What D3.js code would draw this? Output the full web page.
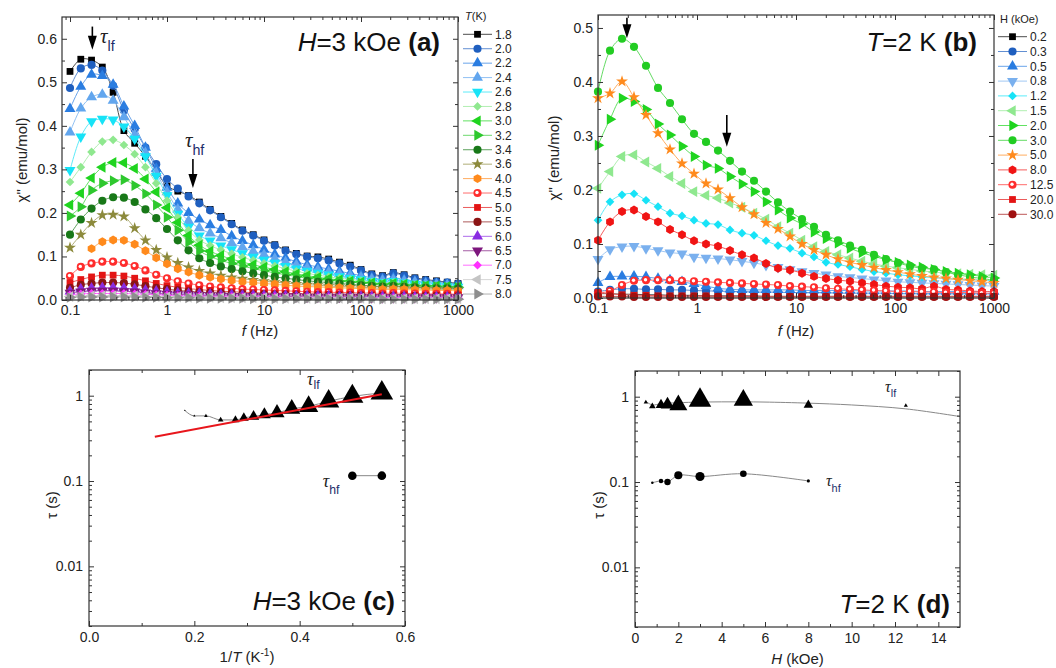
<!DOCTYPE html>
<html>
<head>
<meta charset="utf-8">
<script src="https://cdn.jsdelivr.net/npm/d3@7"></script>
<style>
  body { margin: 0; background: #fff; }
  svg { font-family: "Liberation Sans", Arial, sans-serif; }
</style>
</head>
<body>
<div id="chart"></div>
<script>
// ---- panel (a): chi'' vs f at H = 3 kOe, one series per temperature
const fA = [0.1,0.1292,0.1668,0.2154,0.2783,0.3594,0.4642,0.5995,0.7743,1,1.292,1.668,2.154,2.783,3.594,4.642,5.995,7.743,10,12.92,16.68,21.54,27.83,35.94,46.42,59.95,77.43,100,129.2,166.8,215.4,278.3,359.4,464.2,599.5,774.3,1000];
const tempsA = ["1.8","2.0","2.2","2.4","2.6","2.8","3.0","3.2","3.4","3.6","4.0","4.5","5.0","5.5","6.0","6.5","7.0","7.5","8.0"];
const a18 = [0.525,0.553,0.551,0.535,0.477,0.389,0.360,0.330,0.296,0.262,0.250,0.240,0.225,0.208,0.192,0.176,0.161,0.150,0.138,0.127,0.115,0.107,0.101,0.099,0.094,0.087,0.080,0.070,0.060,0.056,0.063,0.058,0.051,0.047,0.044,0.041,0.038];
const a20 = [0.487,0.532,0.540,0.527,0.492,0.435,0.392,0.350,0.312,0.278,0.256,0.238,0.222,0.206,0.190,0.174,0.159,0.148,0.136,0.125,0.113,0.105,0.099,0.096,0.091,0.084,0.077,0.068,0.058,0.054,0.061,0.056,0.049,0.045,0.042,0.040,0.037];
const a22 = [0.439,0.490,0.518,0.515,0.495,0.445,0.400,0.350,0.302,0.258,0.222,0.200,0.185,0.172,0.161,0.147,0.136,0.126,0.116,0.105,0.096,0.088,0.081,0.076,0.071,0.066,0.061,0.056,0.051,0.048,0.051,0.047,0.043,0.040,0.038,0.036,0.034];
const a24 = [0.385,0.440,0.466,0.472,0.458,0.420,0.380,0.338,0.292,0.248,0.208,0.182,0.165,0.153,0.142,0.131,0.121,0.112,0.104,0.095,0.087,0.080,0.074,0.069,0.064,0.060,0.056,0.052,0.048,0.045,0.047,0.044,0.041,0.038,0.036,0.034,0.032];
const a26 = [0.298,0.375,0.410,0.416,0.414,0.398,0.370,0.330,0.285,0.240,0.198,0.168,0.148,0.136,0.125,0.116,0.107,0.099,0.092,0.085,0.078,0.072,0.067,0.062,0.058,0.054,0.050,0.047,0.044,0.041,0.043,0.040,0.037,0.035,0.033,0.031,0.030];
const a28 = [0.271,0.305,0.340,0.364,0.368,0.356,0.335,0.305,0.268,0.228,0.190,0.160,0.138,0.125,0.115,0.106,0.098,0.091,0.084,0.078,0.072,0.066,0.061,0.057,0.053,0.050,0.047,0.044,0.041,0.038,0.040,0.037,0.035,0.033,0.032,0.031,0.030];
const a30 = [0.218,0.245,0.280,0.305,0.316,0.315,0.302,0.278,0.248,0.212,0.178,0.148,0.126,0.112,0.102,0.094,0.087,0.081,0.075,0.070,0.065,0.060,0.056,0.052,0.049,0.046,0.043,0.041,0.039,0.037,0.038,0.036,0.034,0.033,0.032,0.031,0.030];
const a32 = [0.193,0.214,0.252,0.268,0.274,0.276,0.263,0.244,0.218,0.190,0.160,0.133,0.113,0.100,0.091,0.084,0.078,0.072,0.067,0.062,0.058,0.054,0.050,0.047,0.045,0.043,0.041,0.039,0.037,0.035,0.036,0.034,0.033,0.032,0.031,0.030,0.029];
const a34 = [0.150,0.185,0.210,0.228,0.236,0.235,0.225,0.208,0.188,0.163,0.137,0.114,0.096,0.085,0.077,0.071,0.066,0.061,0.057,0.053,0.050,0.047,0.044,0.042,0.040,0.038,0.036,0.034,0.032,0.031,0.032,0.030,0.029,0.028,0.027,0.027,0.026];
const a36 = [0.120,0.150,0.177,0.195,0.196,0.192,0.165,0.137,0.115,0.098,0.085,0.075,0.067,0.061,0.056,0.052,0.049,0.046,0.043,0.041,0.039,0.037,0.035,0.034,0.032,0.031,0.030,0.029,0.028,0.027,0.028,0.027,0.026,0.025,0.025,0.024,0.024];
const a40 = [null,null,0.118,0.134,0.138,0.137,0.128,0.113,0.097,0.083,0.072,0.064,0.057,0.052,0.048,0.045,0.042,0.040,0.038,0.036,0.034,0.032,0.031,0.030,0.029,0.028,0.027,0.026,0.025,0.024,0.025,0.024,0.023,0.023,0.022,0.022,0.021];
const a45 = [0.055,0.076,0.084,0.088,0.088,0.085,0.078,0.068,0.058,0.050,0.043,0.038,0.034,0.031,0.029,0.027,0.025,0.024,0.023,0.022,0.021,0.020,0.019,0.018,0.018,0.017,0.017,0.016,0.016,0.015,0.016,0.015,0.015,0.014,0.014,0.014,0.013];
const a50 = [0.040,0.047,0.053,0.057,0.057,0.055,0.050,0.044,0.038,0.033,0.029,0.026,0.024,0.022,0.020,0.019,0.018,0.017,0.016,0.016,0.015,0.015,0.014,0.014,0.013,0.013,0.013,0.012,0.012,0.012,0.012,0.012,0.011,0.011,0.011,0.011,0.011];
const a55 = [0.028,0.035,0.038,0.040,0.040,0.039,0.036,0.032,0.028,0.025,0.022,0.020,0.018,0.017,0.016,0.015,0.014,0.013,0.013,0.012,0.012,0.011,0.011,0.011,0.010,0.010,0.010,0.010,0.009,0.009,0.009,0.009,0.009,0.009,0.009,0.008,0.008];
const a60 = [0.020,0.025,0.027,0.028,0.028,0.027,0.025,0.022,0.020,0.018,0.016,0.015,0.014,0.013,0.012,0.012,0.011,0.011,0.010,0.010,0.010,0.009,0.009,0.009,0.009,0.008,0.008,0.008,0.008,0.008,0.008,0.008,0.007,0.007,0.007,0.007,0.007];
const a65 = [0.016,0.019,0.021,0.021,0.021,0.020,0.019,0.017,0.015,0.014,0.013,0.012,0.011,0.010,0.010,0.009,0.009,0.009,0.008,0.008,0.008,0.008,0.007,0.007,0.007,0.007,0.007,0.007,0.006,0.006,0.006,0.006,0.006,0.006,0.006,0.006,0.006];
const a70 = [0.012,0.014,0.015,0.015,0.015,0.015,0.014,0.013,0.012,0.011,0.010,0.009,0.009,0.008,0.008,0.008,0.007,0.007,0.007,0.007,0.006,0.006,0.006,0.006,0.006,0.006,0.005,0.005,0.005,0.005,0.005,0.005,0.005,0.005,0.005,0.005,0.005];
const a75 = [0.008,0.009,0.010,0.010,0.010,0.010,0.009,0.009,0.008,0.007,0.007,0.006,0.006,0.006,0.005,0.005,0.005,0.005,0.005,0.004,0.004,0.004,0.004,0.004,0.004,0.004,0.004,0.004,0.004,0.003,0.003,0.003,0.003,0.003,0.003,0.003,0.003];
const a80 = [0.006,0.007,0.007,0.007,0.007,0.007,0.007,0.006,0.006,0.005,0.005,0.005,0.004,0.004,0.004,0.004,0.004,0.003,0.003,0.003,0.003,0.003,0.003,0.003,0.003,0.003,0.003,0.003,0.003,0.002,0.002,0.002,0.002,0.002,0.002,0.002,0.002];
const seriesA = [a18,a20,a22,a24,a26,a28,a30,a32,a34,a36,a40,a45,a50,a55,a60,a65,a70,a75,a80];
const colorsA = ["#000000","#1f5fbf","#2a7de1","#62a6ee","#17e3f7","#8fe88f","#1fd41f","#2ec82e","#187818","#8c8a3c","#ff8a1c","#ff2d2d","#e31414","#8b1414","#8a2be2","#7d167d","#ff30ff","#c4c4c4","#8e8e8e"];
const shapesA = ["square","circle","up","up","down","diamond","left","right","circle","star","hex","dot","square","circle","up","down","diamond","left","right"];

// ---- panel (b): chi'' vs f at T = 2 K, one series per field
const fB = [0.1,0.1322,0.1748,0.2310,0.3054,0.4037,0.5337,0.7055,0.9326,1.233,1.630,2.154,2.848,3.765,4.977,6.579,8.697,11.50,15.20,20.09,26.56,35.11,46.42,61.36,81.11,107.2,141.8,187.4,247.7,327.5,432.9,572.2,756.5,1000];
const fieldsB = ["0.2","0.3","0.5","0.8","1.2","1.5","2.0","3.0","5.0","8.0","12.5","20.0","30.0"];
const b02 = [0.008,0.008,0.007,0.007,0.006,0.006,0.005,0.005,0.005,0.004,0.004,0.004,0.004,0.004,0.003,0.003,0.003,0.003,0.003,0.003,0.003,0.003,0.003,0.003,0.003,0.003,0.003,0.003,0.003,0.003,0.003,0.003,0.003,0.003];
const b03 = [0.012,0.015,0.017,0.017,0.016,0.016,0.015,0.015,0.014,0.013,0.013,0.012,0.012,0.011,0.011,0.011,0.010,0.010,0.010,0.010,0.009,0.009,0.009,0.009,0.009,0.008,0.008,0.008,0.008,0.008,0.008,0.008,0.008,0.008];
const b05 = [0.028,0.039,0.040,0.040,0.039,0.036,0.033,0.030,0.026,0.022,0.018,0.016,0.015,0.015,0.015,0.015,0.015,0.014,0.014,0.014,0.014,0.014,0.013,0.013,0.013,0.013,0.013,0.012,0.012,0.012,0.012,0.012,0.012,0.012];
const b08 = [0.072,0.090,0.095,0.096,0.092,0.088,0.084,0.082,0.076,0.074,0.073,0.071,0.068,0.065,0.061,0.057,0.053,0.049,0.046,0.043,0.040,0.038,0.036,0.034,0.032,0.030,0.029,0.028,0.027,0.026,0.025,0.024,0.023,0.022];
const b12 = [0.144,0.178,0.191,0.193,0.181,0.169,0.157,0.152,0.144,0.138,0.136,0.126,0.120,0.116,0.106,0.097,0.092,0.083,0.076,0.066,0.062,0.058,0.053,0.049,0.046,0.043,0.041,0.039,0.038,0.036,0.035,0.034,0.033,0.032];
const b15 = [0.203,0.234,0.262,0.265,0.252,0.240,0.225,0.212,0.197,0.190,0.185,0.176,0.168,0.157,0.146,0.132,0.120,0.107,0.095,0.086,0.080,0.074,0.068,0.063,0.059,0.056,0.053,0.050,0.048,0.046,0.045,0.044,0.043,0.042];
const b20 = [0.283,0.331,0.370,0.364,0.349,0.322,0.302,0.281,0.262,0.246,0.240,0.225,0.211,0.197,0.178,0.163,0.148,0.137,0.122,0.110,0.102,0.092,0.084,0.077,0.071,0.066,0.061,0.057,0.053,0.049,0.046,0.043,0.040,0.037];
const b30 = [0.382,0.458,0.480,0.465,0.430,0.389,0.361,0.331,0.304,0.289,0.273,0.254,0.234,0.217,0.197,0.177,0.160,0.146,0.132,0.117,0.107,0.097,0.089,0.080,0.072,0.065,0.059,0.055,0.053,0.048,0.043,0.039,0.036,0.033];
const b50 = [0.370,0.379,0.401,0.372,0.339,0.305,0.275,0.249,0.230,0.212,0.201,0.185,0.168,0.155,0.139,0.128,0.114,0.100,0.089,0.080,0.072,0.066,0.061,0.056,0.052,0.048,0.044,0.041,0.038,0.036,0.034,0.032,0.030,0.028];
const b80 = [0.107,0.141,0.160,0.163,0.151,0.141,0.127,0.117,0.106,0.100,0.096,0.088,0.080,0.074,0.064,0.055,0.052,0.046,0.040,0.036,0.033,0.031,0.028,0.025,0.022,0.020,0.019,0.017,0.022,0.016,0.015,0.013,0.012,0.012];
const b125 = [0.009,0.013,0.024,0.032,0.033,0.033,0.033,0.032,0.031,0.030,0.029,0.028,0.027,0.026,0.025,0.024,0.022,0.021,0.020,0.018,0.017,0.016,0.015,0.014,0.013,0.012,0.012,0.011,0.011,0.010,0.010,0.010,0.009,0.009];
const b200 = [0.010,0.008,0.006,0.005,0.005,0.004,0.004,0.004,0.004,0.004,0.003,0.003,0.003,0.003,0.003,0.003,0.003,0.003,0.003,0.003,0.003,0.003,0.003,0.003,0.003,0.003,0.003,0.003,0.003,0.003,0.003,0.003,0.003,0.003];
const b300 = [0.003,0.003,0.003,0.002,0.002,0.002,0.002,0.002,0.002,0.002,0.002,0.002,0.002,0.002,0.002,0.002,0.002,0.002,0.002,0.002,0.002,0.002,0.002,0.002,0.002,0.002,0.002,0.002,0.002,0.002,0.002,0.002,0.002,0.002];
const seriesB = [b02,b03,b05,b08,b12,b15,b20,b30,b50,b80,b125,b200,b300];
const colorsB = ["#000000","#1f5fbf","#2a7de1","#7ab0ee","#17e3f7","#8fe88f","#1fd41f","#22cc22","#ff8a1c","#f01414","#ff2d2d","#e31414","#a01010"];
const shapesB = ["square","circle","up","down","diamond","left","right","circle","star","hex","dot","square","circle"];

// ---- panel (c): relaxation times vs 1/T
const invT = [0.556,0.500,0.455,0.417,0.385,0.357,0.333,0.3125,0.294,0.278,0.250,0.222,0.200,0.182];
const tauLfC = [1.075,0.98,0.86,0.75,0.70,0.63,0.60,0.57,0.55,0.52,0.52,0.58,0.58,0.67];
const peakC = [0.553,0.540,0.520,0.472,0.416,0.368,0.316,0.276,0.236,0.196,0.138,0.088,0.057,0.040];
const invTHf = [0.500,0.556];
const tauHfC = [0.1155,0.1155];
const shoulderC = [0.238,0.240];
const fitInvT = [0.125,0.556];
const fitTau = [0.33,1.04];

// ---- panel (d): relaxation times vs H
const hLf = [0.5,0.8,1.2,1.5,2.0,3.0,5.0,8.0,12.5];
const tauLfD = [0.86,0.77,0.80,0.81,0.80,0.91,0.91,0.80,0.785];
const peakD = [0.041,0.096,0.193,0.265,0.370,0.480,0.401,0.163,0.033];
const hLfLine = [0.5,0.8,1.2,1.5,2,3,4,5,6,8,10,12.5,15];
const tauLfLine = [0.88,0.80,0.83,0.84,0.85,0.865,0.87,0.87,0.865,0.84,0.80,0.72,0.585];
const hHf = [0.8,1.2,1.5,2.0,3.0,5.0,8.0];
const tauHfD = [0.098,0.103,0.100,0.120,0.116,0.125,0.103];
const shoulderD = [0.071,0.126,0.176,0.225,0.254,0.185,0.088];

const svg = d3.select("#chart").append("svg")
    .attr("width", 1056)
    .attr("height", 668);

const INK = "#222";

// marker shapes
const polygon = n => ({
    draw(ctx, size) {
        const r = Math.sqrt(size / (0.5 * n * Math.sin(2 * Math.PI / n)));
        for (let k = 0; k < n; k++) {
            const a = 2 * Math.PI * k / n - Math.PI / 2;
            if (k === 0) ctx.moveTo(r * Math.cos(a), r * Math.sin(a));
            else ctx.lineTo(r * Math.cos(a), r * Math.sin(a));
        }
        ctx.closePath();
    }
});
const symbols = {
    square: { type: d3.symbolSquare, rot: 0, size: 46 },
    circle: { type: d3.symbolCircle, rot: 0, size: 52 },
    dot: { type: d3.symbolCircle, rot: 0, size: 52 },
    up: { type: d3.symbolTriangle, rot: 0, size: 52 },
    down: { type: d3.symbolTriangle, rot: 180, size: 52 },
    left: { type: d3.symbolTriangle, rot: -90, size: 52 },
    right: { type: d3.symbolTriangle, rot: 90, size: 52 },
    diamond: { type: d3.symbolSquare, rot: 45, size: 38 },
    star: { type: d3.symbolStar, rot: 0, size: 44 },
    hex: { type: polygon(6), rot: 0, size: 52 }
};
const drawMarker = (sel, shape, color) => {
    const s = symbols[shape];
    sel.append("path")
        .attr("d", d3.symbol(s.type, s.size)())
        .attr("transform", `rotate(${s.rot})`)
        .attr("fill", color);
    if (shape === "dot") sel.append("circle").attr("r", 1.7).attr("cx", -0.5).attr("cy", -0.5).attr("fill", "#fff");
};
const lighter = c => d3.interpolateRgb(c, "#ffffff")(0.3);

// frame with inward ticks on all four sides
const drawAxes = (box, x, y, s) => {
    const g = svg.append("g");
    const side = (axis, tr, vals, len, fmt) => g.append("g")
        .attr("transform", tr)
        .call(axis.tickValues(vals).tickSizeInner(-len).tickSizeOuter(0).tickPadding(s.pad || 5).tickFormat(fmt))
        .call(a => a.select(".domain").remove())
        .attr("font-size", 14)
        .attr("font-family", "Liberation Sans, Arial, sans-serif");
    const none = () => "";
    side(d3.axisBottom(x), `translate(0,${box.b})`, s.xMajor, 5, s.xFmt);
    side(d3.axisBottom(x), `translate(0,${box.b})`, s.xMinor, 3, none);
    side(d3.axisTop(x), `translate(0,${box.t})`, s.xMajor, 5, none);
    side(d3.axisTop(x), `translate(0,${box.t})`, s.xMinor, 3, none);
    side(d3.axisLeft(y), `translate(${box.l},0)`, s.yMajor, 5, s.yFmt);
    side(d3.axisLeft(y), `translate(${box.l},0)`, s.yMinor, 3, none);
    side(d3.axisRight(y), `translate(${box.r},0)`, s.yMajor, 5, none);
    side(d3.axisRight(y), `translate(${box.r},0)`, s.yMinor, 3, none);
    g.selectAll(".tick line").attr("stroke", "#333");
    g.selectAll(".tick text").attr("fill", INK);
    g.append("rect")
        .attr("x", box.l).attr("y", box.t)
        .attr("width", box.r - box.l).attr("height", box.b - box.t)
        .attr("fill", "none").attr("stroke", "#333").attr("stroke-width", 1.2);
};
const logMinor = x => x.ticks().filter(v => Math.abs(Math.log10(v) - Math.round(Math.log10(v))) > 1e-6);

// line + symbol series
const plotSeries = (freq, vals, x, y, color, shape) => {
    const pts = freq.map((f, i) => [f, vals[i]]).filter(d => d[1] != null);
    const g = svg.append("g");
    g.append("path")
        .datum(pts)
        .attr("fill", "none")
        .attr("stroke", lighter(color))
        .attr("stroke-width", 1)
        .attr("d", d3.line().x(d => x(d[0])).y(d => y(d[1])).curve(d3.curveCatmullRom));
    g.selectAll(null).data(pts).join("g")
        .attr("transform", d => `translate(${x(d[0])},${y(d[1])})`)
        .each(function () { drawMarker(d3.select(this), shape, color); });
};

const legend = (x0, y0, step, title, labels, colors, shapes) => {
    const g = svg.append("g").attr("font-size", 12).attr("fill", INK);
    g.append("text").attr("x", x0 + 2).attr("y", y0 - 14).attr("font-size", 11).call(title);
    labels.forEach((lab, i) => {
        const yy = y0 + i * step;
        g.append("line").attr("x1", x0).attr("x2", x0 + 29).attr("y1", yy).attr("y2", yy)
            .attr("stroke", lighter(colors[i])).attr("stroke-width", 1);
        drawMarker(g.append("g").attr("transform", `translate(${x0 + 14.5},${yy})`), shapes[i], colors[i]);
        g.append("text").attr("x", x0 + 32).attr("y", yy).attr("dy", "0.35em").text(lab);
    });
};

const arrow = (x, y, f, from, to) => {
    const px = x(f), y1 = y(from), y2 = y(to);
    svg.append("line").attr("x1", px).attr("x2", px).attr("y1", y1).attr("y2", y2 - 10)
        .attr("stroke", "#000").attr("stroke-width", 1.6);
    svg.append("path").attr("d", `M${px},${y2}L${px - 4.5},${y2 - 14}L${px + 4.5},${y2 - 14}Z`).attr("fill", "#000");
};

const tauLabel = (px, py, sub, size, drop) => {
    const t = svg.append("text").attr("x", px).attr("y", py).attr("fill", INK);
    t.append("tspan").attr("font-family", "Liberation Serif, serif").attr("font-style", "italic")
        .attr("font-size", size).text("τ");
    t.append("tspan").attr("font-size", size * 0.68).attr("dy", size * drop).attr("fill", "#1d2d6a").text(sub);
};

const panelTitle = (xr, yb, italic, rest, tag, size) => {
    const t = svg.append("text").attr("x", xr).attr("y", yb).attr("text-anchor", "end")
        .attr("font-size", size).attr("fill", "#111");
    t.append("tspan").attr("font-style", "italic").text(italic);
    t.append("tspan").text(rest);
    t.append("tspan").attr("font-weight", "bold").text(tag);
};

const yTitle = (cx, cy, txt) => svg.append("text")
    .attr("transform", `translate(${cx},${cy}) rotate(-90)`)
    .attr("text-anchor", "middle").attr("font-size", 15).attr("fill", INK).text(txt);

// ================= panel (a)
const boxA = { l: 62, r: 458, t: 17, b: 300 };
const xA = d3.scaleLog().domain([0.0827, 1000]).range([boxA.l, boxA.r]);
const yA = d3.scaleLinear().domain([0, 0.65]).range([boxA.b, boxA.t]);
seriesA.forEach((s, i) => plotSeries(fA, s, xA, yA, colorsA[i], shapesA[i]));
drawAxes(boxA, xA, yA, {
    xMajor: [0.1, 1, 10, 100, 1000], xMinor: logMinor(xA), xFmt: d => String(d),
    yMajor: d3.range(0, 0.61, 0.1), yMinor: d3.range(0.05, 0.65, 0.1), yFmt: d3.format(".1f")
});
arrow(xA, yA, 0.17, 0.628, 0.575);
arrow(xA, yA, 1.85, 0.324, 0.257);
tauLabel(xA(0.204), yA(0.590), "lf", 21, 0.38);
tauLabel(xA(1.53), yA(0.351), "hf", 21, 0.38);
panelTitle(boxA.r - 18, 51, "H", "=3 kOe ", "(a)", 26);
legend(463, 34.3, 14.43, t => { t.append("tspan").attr("font-style", "italic").text("T"); t.append("tspan").text("(K)"); },
    tempsA, colorsA, shapesA);
svg.append("text").attr("x", (boxA.l + boxA.r) / 2).attr("y", 336).attr("text-anchor", "middle")
    .attr("font-size", 15).attr("fill", INK)
    .call(t => { t.append("tspan").attr("font-style", "italic").text("f"); t.append("tspan").text(" (Hz)"); });
yTitle(27, 160, "χ\" (emu/mol)");

// ================= panel (b)
const boxB = { l: 598, r: 994, t: 15, b: 298 };
const xB = d3.scaleLog().domain([0.1, 1000]).range([boxB.l, boxB.r]);
const yB = d3.scaleLinear().domain([0, 0.524]).range([boxB.b, boxB.t]);
seriesB.forEach((s, i) => plotSeries(fB, s, xB, yB, colorsB[i], shapesB[i]));
drawAxes(boxB, xB, yB, {
    xMajor: [0.1, 1, 10, 100, 1000], xMinor: logMinor(xB), xFmt: d => String(d),
    yMajor: d3.range(0, 0.51, 0.1), yMinor: d3.range(0.05, 0.52, 0.1), yFmt: d3.format(".1f")
});
arrow(xB, yB, 0.196, 0.519, 0.481);
arrow(xB, yB, 2.0, 0.339, 0.280);
panelTitle(boxB.r - 17, 51, "T", "=2 K ", "(b)", 26);
legend(998, 36.7, 14.8, t => t.text("H (kOe)"), fieldsB, colorsB, shapesB);
svg.append("text").attr("x", (boxB.l + boxB.r) / 2).attr("y", 336).attr("text-anchor", "middle")
    .attr("font-size", 15).attr("fill", INK)
    .call(t => { t.append("tspan").attr("font-style", "italic").text("f"); t.append("tspan").text(" (Hz)"); });
yTitle(559, 158, "χ\" (emu/mol)");

// ================= panel (c)
const boxC = { l: 89, r: 405, t: 370, b: 626 };
const xC = d3.scaleLinear().domain([0, 0.6]).range([boxC.l, boxC.r]);
const yC = d3.scaleLog().domain([0.002, 2]).range([boxC.b, boxC.t]);
const triW = d3.scaleLinear().domain([0, 0.55]).range([0, 21]);
const dotD = d3.scaleLinear().domain([0, 0.25]).range([0, 9]);
const triArea = w => Math.sqrt(3) / 4 * w * w * 1.15;
const circArea = dd => Math.PI * dd * dd / 4;

const lfC = invT.map((v, i) => ({ x: v, t: tauLfC[i], a: peakC[i] }));
svg.append("path")
    .datum(lfC.slice().sort((p, q) => p.x - q.x))
    .attr("fill", "none").attr("stroke", "#888").attr("stroke-width", 1)
    .attr("d", d3.line().x(d => xC(d.x)).y(d => yC(d.t)).curve(d3.curveMonotoneX));
svg.selectAll(null).data(lfC).join("path")
    .attr("transform", d => `translate(${xC(d.x)},${yC(d.t)})`)
    .attr("d", d => d3.symbol(d3.symbolTriangle, triArea(triW(d.a)))())
    .attr("fill", "#000");
svg.append("path")
    .datum(fitInvT.map((v, i) => [v, fitTau[i]]))
    .attr("fill", "none").attr("stroke", "#e8161c").attr("stroke-width", 2)
    .attr("d", d3.line().x(d => xC(d[0])).y(d => yC(d[1])));
const hfC = invTHf.map((v, i) => ({ x: v, t: tauHfC[i], a: shoulderC[i] }));
svg.append("path")
    .datum(hfC)
    .attr("fill", "none").attr("stroke", "#888").attr("stroke-width", 1)
    .attr("d", d3.line().x(d => xC(d.x)).y(d => yC(d.t)));
svg.selectAll(null).data(hfC).join("path")
    .attr("transform", d => `translate(${xC(d.x)},${yC(d.t)})`)
    .attr("d", d => d3.symbol(d3.symbolCircle, circArea(dotD(d.a)))())
    .attr("fill", "#000");
drawAxes(boxC, xC, yC, {
    xMajor: [0, 0.2, 0.4, 0.6], xMinor: [0.1, 0.3, 0.5], xFmt: d3.format(".1f"),
    yMajor: [0.01, 0.1, 1], yMinor: logMinor(yC), yFmt: d => String(d), pad: 6
});
tauLabel(xC(0.414), yC(1.32), "lf", 18, 0.22);
tauLabel(xC(0.444), yC(0.0857), "hf", 18, 0.38);
panelTitle(boxC.r - 10, 610, "H", "=3 kOe ", "(c)", 26);
svg.append("text").attr("x", (boxC.l + boxC.r) / 2).attr("y", 662).attr("text-anchor", "middle")
    .attr("font-size", 15).attr("fill", INK)
    .call(t => {
        t.append("tspan").text("1/");
        t.append("tspan").attr("font-style", "italic").text("T");
        t.append("tspan").text(" (K");
        t.append("tspan").attr("font-size", 10).attr("dy", -6).text("-1");
        t.append("tspan").attr("dy", 6).text(")");
    });
yTitle(57, 505, "τ (s)");

// ================= panel (d)
const boxD = { l: 635, r: 960, t: 371, b: 627 };
const xD = d3.scaleLinear().domain([0, 15]).range([boxD.l, boxD.r]);
const yD = d3.scaleLog().domain([0.002, 2]).range([boxD.b, boxD.t]);
const triWD = d3.scaleLinear().domain([0, 0.48]).range([2.5, 21]);

svg.append("path")
    .datum(hLfLine.map((h, i) => [h, tauLfLine[i]]))
    .attr("fill", "none").attr("stroke", "#888").attr("stroke-width", 1)
    .attr("d", d3.line().x(d => xD(d[0])).y(d => yD(d[1])).curve(d3.curveCatmullRom));
svg.selectAll(null).data(hLf.map((h, i) => ({ x: h, t: tauLfD[i], a: peakD[i] }))).join("path")
    .attr("transform", d => `translate(${xD(d.x)},${yD(d.t)})`)
    .attr("d", d => d3.symbol(d3.symbolTriangle, triArea(triWD(d.a)))())
    .attr("fill", "#000");
const hfD = hHf.map((h, i) => ({ x: h, t: tauHfD[i], a: shoulderD[i] }));
svg.append("path")
    .datum(hfD)
    .attr("fill", "none").attr("stroke", "#888").attr("stroke-width", 1)
    .attr("d", d3.line().x(d => xD(d.x)).y(d => yD(d.t)).curve(d3.curveCatmullRom));
svg.selectAll(null).data(hfD).join("path")
    .attr("transform", d => `translate(${xD(d.x)},${yD(d.t)})`)
    .attr("d", d => d3.symbol(d3.symbolCircle, circArea(Math.max(2.5, dotD(d.a))))())
    .attr("fill", "#000");
drawAxes(boxD, xD, yD, {
    xMajor: d3.range(0, 15, 2), xMinor: d3.range(1, 15, 2), xFmt: d3.format("d"),
    yMajor: [0.01, 0.1, 1], yMinor: logMinor(yD), yFmt: d => String(d), pad: 6
});
tauLabel(xD(11.54), yD(1.12), "lf", 16, 0.3);
tauLabel(xD(8.81), yD(0.0905), "hf", 16, 0.38);
panelTitle(boxD.r - 10, 613, "T", "=2 K ", "(d)", 26);
svg.append("text").attr("x", (boxD.l + boxD.r) / 2).attr("y", 664).attr("text-anchor", "middle")
    .attr("font-size", 15).attr("fill", INK)
    .call(t => { t.append("tspan").attr("font-style", "italic").text("H"); t.append("tspan").text(" (kOe)"); });
yTitle(604, 505, "τ (s)");
</script>
</body>
</html>
